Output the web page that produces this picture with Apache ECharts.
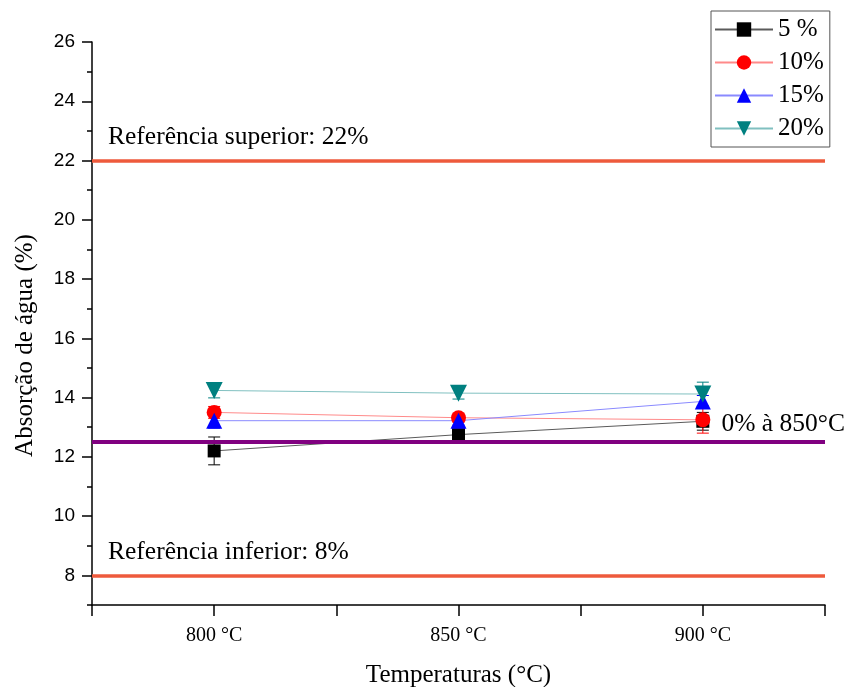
<!DOCTYPE html>
<html>
<head>
<meta charset="utf-8">
<script src="https://cdn.jsdelivr.net/npm/echarts@6/dist/echarts.min.js"></script>
<style>html,body{margin:0;padding:0;background:#fff}#c{width:845px;height:687px}</style>
</head>
<body>
<div id="c"></div>
<script>
// ---- data ----
const temps = [800, 850, 900];
const xTickLabels = [800, 850, 900];
const seriesNames = ['5 %', '10%', '15%', '20%'];
const abs5  = [12.2, 12.75, 13.2];
const abs10 = [13.5, 13.32, 13.25];
const abs15 = [13.22, 13.22, 13.87];
const abs20 = [14.24, 14.15, 14.12];
const err5  = [0.47, 0.12, 0.3];
const err10 = [0.2, 0.15, 0.45];
const err15 = [0.25, 0.15, 0.2];
const err20 = [0.25, 0.2, 0.4];
const refUpper = 22;
const refLower = 8;
const ref850 = 12.5;
const yMajorTicks = [8, 10, 12, 14, 16, 18, 20, 22, 24, 26];
const yMinorTicks = [7, 9, 11, 13, 15, 17, 19, 21, 23, 25];

const values = [abs5, abs10, abs15, abs20];
const errors = [err5, err10, err15, err20];
const markerColors = ['#000000', '#ff0000', '#0000ff', '#008080'];
const lineColors = ['#5a5a5a', '#ff8a8a', '#8a8aff', '#80c0c0'];
const symbols = ['rect', 'circle', 'triangle', 'path://M0,0 L10,0 L5,9 Z'];
const symbolSizes = [13, 15, 16, 17];

const serif = 'Liberation Serif';
const chart = echarts.init(document.getElementById('c'), null, {renderer: 'canvas'});

const series = [];
series.push({
  name: 'refs', type: 'line', data: [], silent: true,
  markLine: {
    symbol: 'none', silent: true, animation: false,
    data: [
      {yAxis: refUpper, lineStyle: {color: '#ee5a3c', width: 3.5, type: 'solid'},
       label: {formatter: 'Referência superior: 22%', position: 'insideStartTop', distance: [16, 10]}},
      {yAxis: refLower, lineStyle: {color: '#ee5a3c', width: 3.5, type: 'solid'},
       label: {formatter: 'Referência inferior: 8%', position: 'insideStartTop', distance: [16, 10]}},
      {yAxis: ref850, lineStyle: {color: '#800080', width: 4, type: 'solid'},
       label: {formatter: '0% à 850°C', position: 'insideEndTop', distance: [-20, 5]}}
    ],
    label: {show: true, color: '#000', fontFamily: serif, fontSize: 25.5}
  }
});

values.forEach((vals, k) => {
  const errs = errors[k];
  series.push({
    name: seriesNames[k] + ' err', type: 'custom', z: 3,
    data: temps.map((t, i) => [t, vals[i] - errs[i], vals[i] + errs[i]]),
    encode: {x: 0, y: [1, 2]},
    renderItem: (params, api) => {
      const x = api.value(0);
      const lo = api.coord([x, api.value(1)]);
      const hi = api.coord([x, api.value(2)]);
      const w = 6;
      const st = {stroke: markerColors[k], lineWidth: 1};
      return {type: 'group', children: [
        {type: 'line', shape: {x1: hi[0], y1: hi[1], x2: lo[0], y2: lo[1]}, style: st},
        {type: 'line', shape: {x1: hi[0] - w, y1: hi[1], x2: hi[0] + w, y2: hi[1]}, style: st},
        {type: 'line', shape: {x1: lo[0] - w, y1: lo[1], x2: lo[0] + w, y2: lo[1]}, style: st}
      ]};
    }
  });
  series.push({
    name: seriesNames[k], type: 'line', z: 4,
    data: temps.map((t, i) => [t, vals[i]]),
    symbol: symbols[k], symbolSize: symbolSizes[k], showSymbol: true,
    itemStyle: {color: markerColors[k]},
    lineStyle: {color: lineColors[k], width: 1},
    animation: false
  });
});

chart.setOption({
  animation: false,
  grid: {left: 92, top: 42, width: 733, height: 563, containLabel: false, outerBoundsMode: 'none'},
  legend: {
    orient: 'vertical', left: 711, top: 11,
    data: seriesNames,
    borderColor: '#555', borderWidth: 1, padding: [6, 6, 6, 3],
    itemWidth: 58, itemHeight: 18, itemGap: 8,
    textStyle: {fontFamily: serif, fontSize: 25, color: '#000'},
    selectedMode: false
  },
  xAxis: {
    type: 'value', min: 775, max: 925, interval: 25,
    name: 'Temperaturas (°C)', nameLocation: 'middle', nameGap: 58,
    nameTextStyle: {fontFamily: serif, fontSize: 25, color: '#000'},
    axisLine: {show: true, onZero: false, lineStyle: {color: '#000', width: 1.5}},
    axisTick: {show: true, length: 11, lineStyle: {color: '#000', width: 1.5}},
    axisLabel: {customValues: xTickLabels, formatter: v => v + ' °C', margin: 21,
      fontFamily: serif, fontSize: 20, color: '#000'},
    splitLine: {show: false}
  },
  yAxis: [{
    type: 'value', min: 7, max: 26,
    name: 'Absorção de água (%)', nameLocation: 'middle', nameGap: 54,
    nameTextStyle: {fontFamily: serif, fontSize: 25, color: '#000', padding: [0, 44, 0, 0]},
    axisLine: {show: true, lineStyle: {color: '#000', width: 1.5}},
    axisTick: {show: true, customValues: yMajorTicks, length: 10, lineStyle: {color: '#000', width: 1.5}},
    axisLabel: {customValues: yMajorTicks, margin: 17, fontFamily: 'Liberation Sans', fontSize: 19, color: '#000'},
    splitLine: {show: false}
  }, {
    type: 'value', min: 7, max: 26, position: 'left',
    axisLine: {show: false},
    axisTick: {show: true, customValues: yMinorTicks, length: 5, lineStyle: {color: '#000', width: 1.5}},
    axisLabel: {show: false},
    splitLine: {show: false}
  }],
  series: series
});
</script>
</body>
</html>
